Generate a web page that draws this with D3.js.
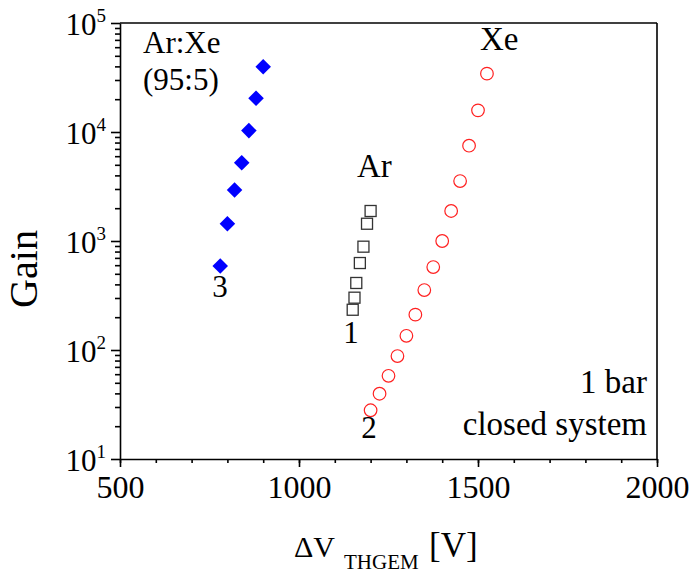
<!DOCTYPE html>
<html>
<head>
<meta charset="utf-8">
<script src="https://cdn.jsdelivr.net/npm/d3@7"></script>
<style>
  body { margin: 0; background: #fff; }
  svg text { font-family: "Liberation Serif", "Times New Roman", serif; fill: #000; }
  .axis path, .axis line { stroke: #000; stroke-width: 1.6; }
</style>
</head>
<body>
<div id="chart"></div>
<script>
// Ar:Xe (95:5) - curve 3
const arXeV = [780, 800, 820, 840, 860, 880, 900];
const arXeGain = [590, 1440, 2940, 5230, 10300, 20400, 39700];
// Ar - curve 1
const arV = [1150, 1155, 1160, 1170, 1180, 1190, 1200];
const arGain = [234, 302, 412, 628, 887, 1440, 1885];
// Xe - curve 2
const xeV = [1200, 1225, 1250, 1275, 1300, 1325, 1350, 1375, 1400, 1425, 1450, 1475, 1500, 1525];
const xeGain = [28, 39.7, 58, 88, 135, 211, 355, 577, 1000, 1885, 3550, 7490, 15800, 34300];

const xMajor = [500, 1000, 1500, 2000];
const yMajor = [1, 2, 3, 4, 5]; // exponents

const W = 694, H = 573;
const mLeft = 120, mRight = 657, mTop = 23, mBottom = 459;

const svg = d3.select("#chart").append("svg")
  .attr("width", W).attr("height", H);

const x = d3.scaleLinear().domain([500, 2000]).range([mLeft, mRight]);
const y = d3.scaleLog().domain([10, 1e5]).range([mBottom, mTop]);

// minor x ticks
const xMinor = d3.range(500, 2001, 100);
svg.append("g").attr("class", "axis")
  .attr("transform", `translate(0,${mBottom})`)
  .call(d3.axisBottom(x).tickValues(xMinor).tickSize(4).tickFormat(""))
  .call(g => g.select(".domain").remove());

const xAxis = svg.append("g").attr("class", "axis")
  .attr("transform", `translate(0,${mBottom})`)
  .call(d3.axisBottom(x).tickValues(xMajor).tickSize(8).tickSizeOuter(0).tickFormat(d3.format("d")));
xAxis.selectAll("text")
  .style("font-family", "Liberation Serif")
  .style("font-size", "32px")
  .attr("y", 39)
  .attr("dy", null);

// minor y ticks
const yMinor = [];
for (let e = 1; e < 5; e++) for (let k = 2; k <= 9; k++) yMinor.push(k * Math.pow(10, e));
svg.append("g").attr("class", "axis")
  .attr("transform", `translate(${mLeft},0)`)
  .call(d3.axisLeft(y).tickValues(yMinor).tickSize(5).tickFormat(""))
  .call(g => g.select(".domain").remove());

svg.append("g").attr("class", "axis")
  .attr("transform", `translate(${mLeft},0)`)
  .call(d3.axisLeft(y).tickValues(yMajor.map(e => Math.pow(10, e))).tickSize(9).tickSizeOuter(0).tickFormat(""));

// y labels 10^n
yMajor.forEach(e => {
  const t = svg.append("text")
    .attr("x", 106).attr("y", y(Math.pow(10, e)) + 12)
    .attr("text-anchor", "end")
    .style("font-size", "31px");
  t.append("tspan").text("10");
  t.append("tspan").attr("dy", -13).style("font-size", "19px").text(e);
});

// frame top and right
svg.append("line").attr("x1", mLeft).attr("x2", mRight).attr("y1", mTop).attr("y2", mTop)
  .attr("stroke", "#000").attr("stroke-width", 1.6);
svg.append("line").attr("x1", mRight).attr("x2", mRight).attr("y1", mTop).attr("y2", mBottom)
  .attr("stroke", "#000").attr("stroke-width", 1.6);

// axis titles
svg.append("text")
  .attr("transform", `translate(37,${(228 + 310) / 2}) rotate(-90)`)
  .attr("text-anchor", "middle")
  .style("font-size", "40px")
  .text("Gain");

svg.append("text").attr("x", 294).attr("y", 557)
  .style("font-size", "30px").text("\u0394V");
svg.append("text").attr("x", 344).attr("y", 569)
  .style("font-size", "21px").text("THGEM");
svg.append("text").attr("x", 429).attr("y", 557)
  .style("font-size", "35px").text("[V]");

// data marks
const arXe = arXeV.map((v, i) => ({ v, g: arXeGain[i] }));
const ar = arV.map((v, i) => ({ v, g: arGain[i] }));
const xe = xeV.map((v, i) => ({ v, g: xeGain[i] }));

svg.append("g").selectAll("path").data(arXe).join("path")
  .attr("transform", d => `translate(${x(d.v)},${y(d.g)}) rotate(45)`)
  .attr("d", "M-5.5,-5.5H5.5V5.5H-5.5Z")
  .attr("fill", "#0000ff");

svg.append("g").selectAll("rect").data(ar).join("rect")
  .attr("x", d => x(d.v) - 5.5).attr("y", d => y(d.g) - 5.5)
  .attr("width", 11).attr("height", 11)
  .attr("fill", "none").attr("stroke", "#333").attr("stroke-width", 1.3);

svg.append("g").selectAll("circle").data(xe).join("circle")
  .attr("cx", d => x(d.v)).attr("cy", d => y(d.g))
  .attr("r", 6.3)
  .attr("fill", "none").attr("stroke", "#ff2020").attr("stroke-width", 1.2);

// annotations
const note = (tx, ty, s, size, anchor) => svg.append("text")
  .attr("x", tx).attr("y", ty).attr("text-anchor", anchor || "start")
  .style("font-size", size + "px").text(s);
note(143, 53, "Ar:Xe", 31);
note(143, 90, "(95:5)", 31);
note(357, 177, "Ar", 33);
note(480, 50, "Xe", 33);
note(647, 393, "1 bar", 33, "end");
note(647, 435, "closed system", 33, "end");
note(351, 343, "1", 31, "middle");
note(369, 438, "2", 31, "middle");
note(220, 297, "3", 31, "middle");
</script>
</body>
</html>
